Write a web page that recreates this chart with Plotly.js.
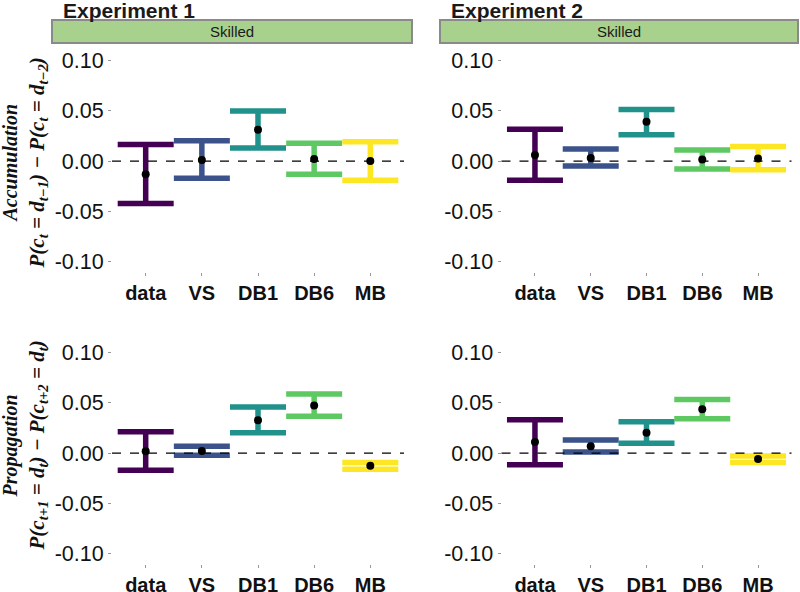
<!DOCTYPE html>
<html>
<head>
<meta charset="utf-8">
<script src="https://cdn.plot.ly/plotly-3.0.1.min.js"></script>
<style>html,body{margin:0;padding:0;background:#fff;} #chart{width:800px;height:592px;}</style>
</head>
<body>
<div id="chart"></div>
<script>
// ---- data ----
const categories = ['data', 'VS', 'DB1', 'DB6', 'MB'];
const colors = ['#440154', '#3B528B', '#21918C', '#5EC962', '#FDE725'];

const exp1AccMean = [-0.013, 0.001, 0.031, 0.002, 0.000];
const exp1AccLo   = [-0.042, -0.017, 0.013, -0.013, -0.019];
const exp1AccHi   = [0.0165, 0.020, 0.0495, 0.0175, 0.019];

const exp2AccMean = [0.006, 0.003, 0.039, 0.0016, 0.0026];
const exp2AccLo   = [-0.019, -0.005, 0.026, -0.008, -0.0087];
const exp2AccHi   = [0.0316, 0.012, 0.051, 0.011, 0.0145];

const exp1PropMean = [0.0017, 0.002, 0.0325, 0.047, -0.0125];
const exp1PropLo   = [-0.017, -0.0023, 0.020, 0.0365, -0.016];
const exp1PropHi   = [0.021, 0.0067, 0.0455, 0.0584, -0.0093];

const exp2PropMean = [0.011, 0.0067, 0.020, 0.0435, -0.006];
const exp2PropLo   = [-0.0115, 0.001, 0.0097, 0.034, -0.0095];
const exp2PropHi   = [0.033, 0.013, 0.031, 0.053, -0.003];

const yTickVals = [-0.10, -0.05, 0.00, 0.05, 0.10];
const yTickText = ['-0.10', '-0.05', '0.00', '0.05', '0.10'];

const panelTitles = ['Experiment 1', 'Experiment 2'];
const stripLabel = 'Skilled';
const rowTitles = ['Accumulation', 'Propagation'];
const rowFormulas = [
  'P(c<sub>t</sub> = d<sub>t−1</sub>) − P(c<sub>t</sub> = d<sub>t−2</sub>)',
  'P(c<sub>t+1</sub> = d<sub>t</sub>) − P(c<sub>t+2</sub> = d<sub>t</sub>)'
];

// ---- build ----
const W = 800, H = 592;
const px = v => v / W;
const py = v => 1 - v / H;

const panels = [
  {mean: exp1AccMean, lo: exp1AccLo, hi: exp1AccHi, ax: ''},
  {mean: exp2AccMean, lo: exp2AccLo, hi: exp2AccHi, ax: '2'},
  {mean: exp1PropMean, lo: exp1PropLo, hi: exp1PropHi, ax: '3'},
  {mean: exp2PropMean, lo: exp2PropLo, hi: exp2PropHi, ax: '4'}
];

const traces = [];
panels.forEach(p => {
  categories.forEach((c, i) => {
    traces.push({
      type: 'scatter', mode: 'markers',
      x: [c], y: [p.mean[i]],
      xaxis: 'x' + p.ax, yaxis: 'y' + p.ax,
      marker: {color: '#000', size: 8},
      error_y: {
        type: 'data', symmetric: false,
        array: [p.hi[i] - p.mean[i]],
        arrayminus: [p.mean[i] - p.lo[i]],
        color: colors[i], thickness: 5.5, width: 28
      },
      showlegend: false, hoverinfo: 'skip', cliponaxis: false
    });
  });
});

const sansFont = 'Liberation Sans, Arial, sans-serif';
const serifFont = 'Liberation Serif, DejaVu Serif, serif';

function xAxis(dom, anchor) {
  return {
    domain: dom, anchor: anchor, type: 'category',
    categoryorder: 'array', categoryarray: categories,
    range: [-0.6, 4.6], showgrid: false, zeroline: false, showline: false,
    ticks: 'outside', ticklen: 3, tickcolor: '#999', tickwidth: 1,
    tickfont: {family: sansFont, size: 20, color: '#111', weight: 'bold'},
    fixedrange: true
  };
}
function yAxis(dom, anchor) {
  return {
    domain: dom, anchor: anchor, range: [-0.11, 0.116],
    tickvals: yTickVals, ticktext: yTickText,
    showgrid: false, zeroline: false, showline: false,
    ticks: 'outside', ticklen: 3, tickcolor: '#999', tickwidth: 1,
    tickfont: {family: sansFont, size: 21.5, color: '#111'},
    fixedrange: true
  };
}

const xL = [px(112), px(404)], xR = [px(501.5), px(791.5)];
const yT = [py(272), py(44)], yB = [py(564), py(336)];

const layout = {
  width: W, height: H,
  margin: {l: 0, r: 0, t: 0, b: 0},
  paper_bgcolor: '#fff', plot_bgcolor: '#fff',
  showlegend: false,
  xaxis: xAxis(xL, 'y'), yaxis: yAxis(yT, 'x'),
  xaxis2: xAxis(xR, 'y2'), yaxis2: yAxis(yT, 'x2'),
  xaxis3: xAxis(xL, 'y3'), yaxis3: yAxis(yB, 'x3'),
  xaxis4: xAxis(xR, 'y4'), yaxis4: yAxis(yB, 'x4'),
  shapes: [],
  annotations: []
};

// dashed zero reference lines
panels.forEach(p => {
  layout.shapes.push({
    type: 'line', xref: 'x' + p.ax + ' domain', x0: 0, x1: 1,
    yref: 'y' + p.ax, y0: 0, y1: 0,
    line: {color: '#000', width: 1.3, dash: 'dash'}, layer: 'above'
  });
});

// strips
const strips = [[52, 412], [440, 798]];
strips.forEach((s, k) => {
  layout.shapes.push({
    type: 'rect', xref: 'paper', yref: 'paper',
    x0: px(s[0]), x1: px(s[1]), y0: py(43), y1: py(20),
    fillcolor: '#A8D18D', line: {color: '#8a8a8a', width: 2}, layer: 'below'
  });
  layout.annotations.push({
    xref: 'paper', yref: 'paper', x: px((s[0] + s[1]) / 2), y: py(31.5),
    xanchor: 'center', yanchor: 'middle', showarrow: false,
    text: stripLabel, font: {family: sansFont, size: 15, color: '#1a1a1a'}
  });
  layout.annotations.push({
    xref: 'paper', yref: 'paper', x: px(s[0] + 9), y: py(10.5),
    xanchor: 'left', yanchor: 'middle', showarrow: false,
    text: '<b>' + panelTitles[k] + '</b>',
    font: {family: sansFont, size: 21, color: '#1a1a1a'}
  });
});

// row titles (y-axis titles)
const rowCenters = [163, 446];
rowTitles.forEach((t, k) => {
  layout.annotations.push({
    xref: 'paper', yref: 'paper', x: px(9.5), y: py(rowCenters[k]),
    xanchor: 'center', yanchor: 'middle', showarrow: false, textangle: -90,
    text: '<b><i>' + t + '</i></b>',
    font: {family: serifFont, size: 20, color: '#111'}
  });
  layout.annotations.push({
    xref: 'paper', yref: 'paper', x: px(37.5), y: py(rowCenters[k]),
    xanchor: 'center', yanchor: 'middle', showarrow: false, textangle: -90,
    text: '<b><i>' + rowFormulas[k] + '</i></b>',
    font: {family: serifFont, size: 21, color: '#111'}
  });
});

Plotly.newPlot('chart', traces, layout, {displayModeBar: false, staticPlot: true});
</script>
</body>
</html>
